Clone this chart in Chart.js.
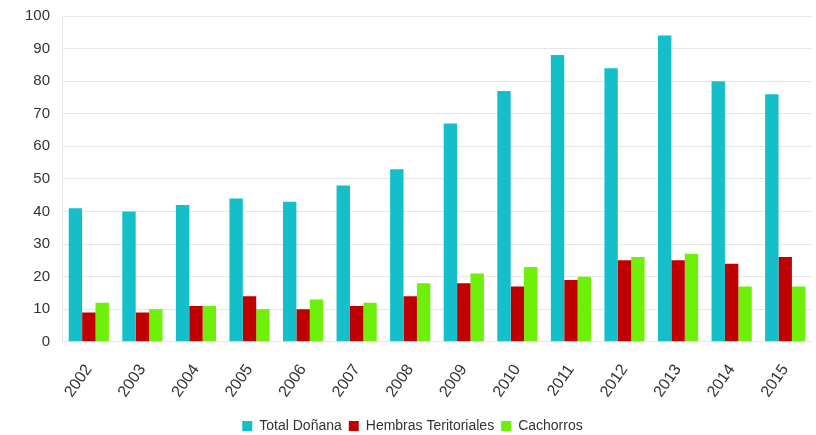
<!DOCTYPE html>
<html lang="en">
<head>
    <meta charset="UTF-8">
    <title>Doñana</title>
    <script src="https://cdn.jsdelivr.net/npm/chart.js"></script>
    <style>
        html, body { margin: 0; padding: 0; background: #fff; overflow: hidden; }
        /* canvas a bit taller and nudged up so the plot sits where the reference has it */
        .chart-box { width: 816px; height: 448px; position: relative; top: -5px; }
    </style>
</head>
<body>
    <div class="chart-box">
        <canvas id="lynxChart"></canvas>
    </div>
    <script>
        const years = ['2002', '2003', '2004', '2005', '2006', '2007', '2008', '2009', '2010', '2011', '2012', '2013', '2014', '2015'];
        const totalDonana = [41, 40, 42, 44, 43, 48, 53, 67, 77, 88, 84, 94, 80, 76];
        const hembras = [9, 9, 11, 14, 10, 11, 14, 18, 17, 19, 25, 25, 24, 26];
        const cachorros = [12, 10, 11, 10, 13, 12, 18, 21, 23, 20, 26, 27, 17, 17];

        const ctx = document.getElementById('lynxChart').getContext('2d');
        new Chart(ctx, {
            type: 'bar',
            data: {
                labels: years,
                datasets: [
                    { label: 'Total Doñana', data: totalDonana, backgroundColor: '#14bfc9' },
                    { label: 'Hembras Teritoriales', data: hembras, backgroundColor: '#c00000' },
                    { label: 'Cachorros', data: cachorros, backgroundColor: '#6ef00a' }
                ]
            },
            options: {
                responsive: true,
                maintainAspectRatio: false,
                animation: false,
                layout: { padding: { top: 0, right: 4, left: 13, bottom: 0 } },
                datasets: {
                    bar: { categoryPercentage: 0.75, barPercentage: 1.0 }
                },
                plugins: {
                    legend: {
                        position: 'bottom',
                        labels: {
                            boxWidth: 10,
                            boxHeight: 10,
                            padding: 7,
                            color: '#333',
                            font: { family: 'Liberation Sans', size: 14 }
                        }
                    },
                    tooltip: { enabled: false }
                },
                scales: {
                    y: {
                        min: 0,
                        max: 100,
                        ticks: {
                            stepSize: 10,
                            color: '#333',
                            padding: 12,
                            font: { family: 'Liberation Sans', size: 15 }
                        },
                        grid: { color: '#e6e6e6', drawTicks: false },
                        border: { color: '#e6e6e6' }
                    },
                    x: {
                        ticks: {
                            minRotation: 55,
                            maxRotation: 55,
                            padding: 11,
                            color: '#333',
                            font: { family: 'Liberation Sans', size: 16 }
                        },
                        grid: { display: false },
                        border: { color: '#e6e6e6' }
                    }
                }
            }
        });
    </script>
</body>
</html>
